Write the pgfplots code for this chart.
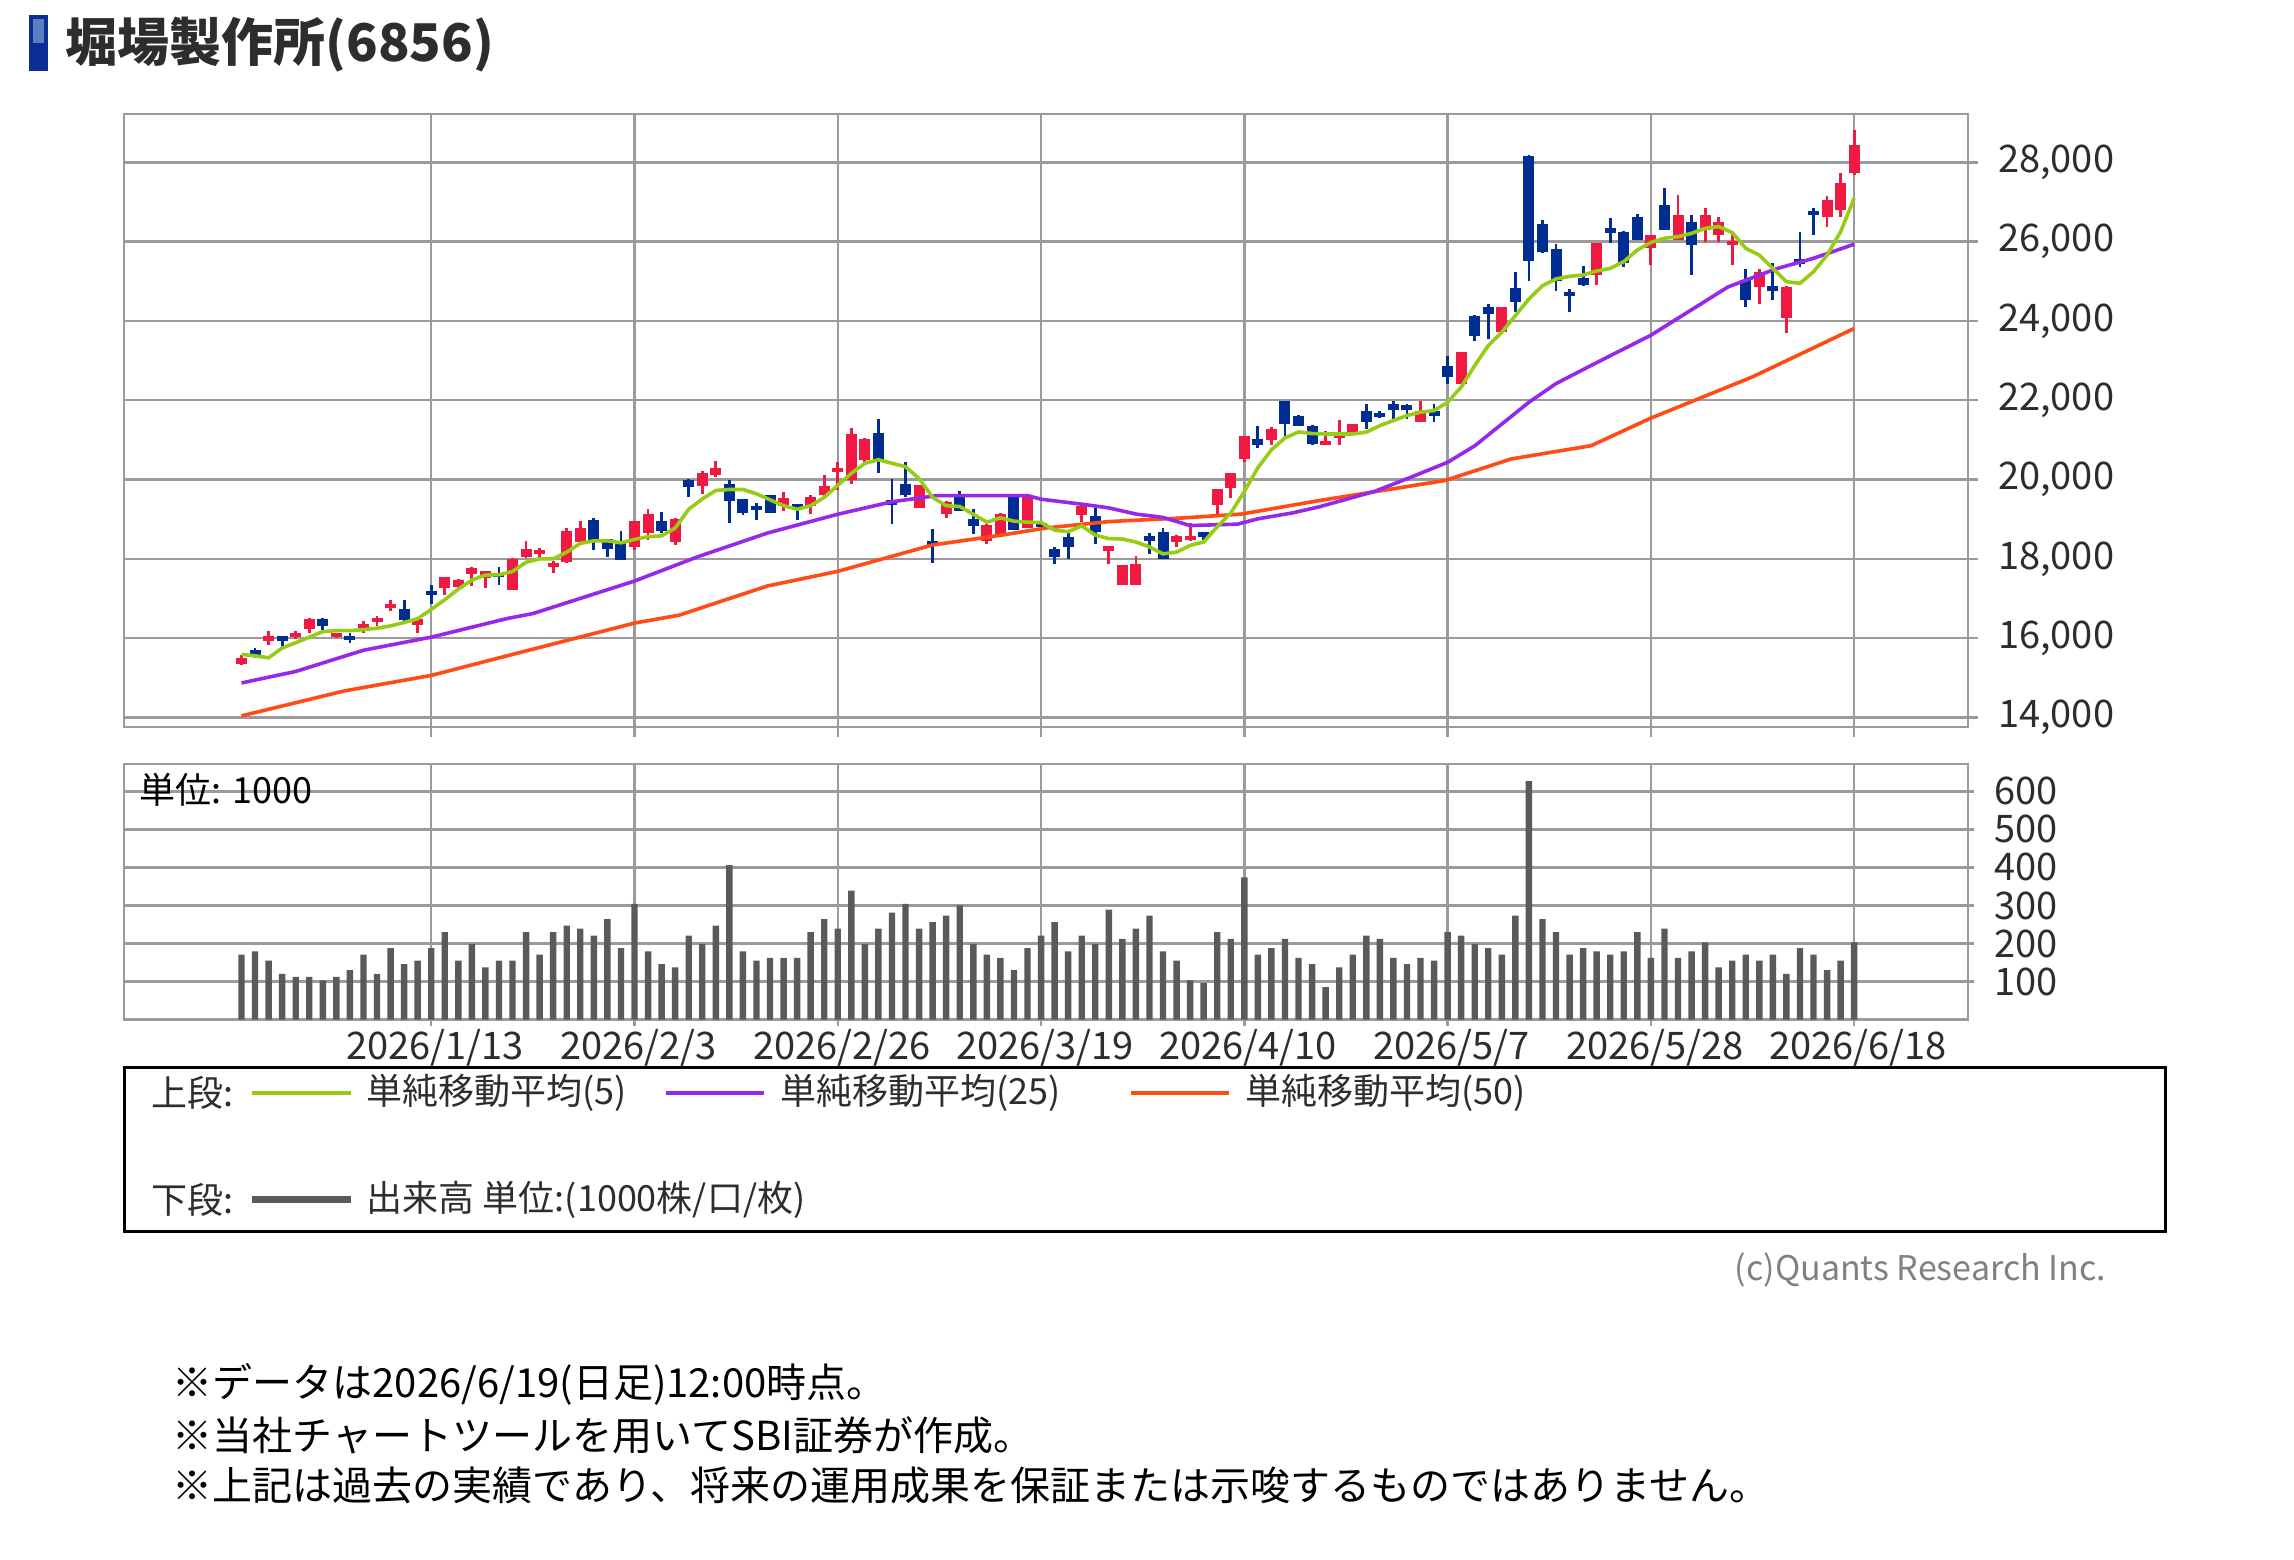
\documentclass[border=0pt]{standalone}
\usepackage{fontspec}
\setmainfont{Noto Sans CJK JP}
\usepackage{pgfplots}
\pgfplotsset{compat=1.18}
\usepackage{pgfplotstable}

\definecolor{upc}{RGB}{240,25,65}
\definecolor{dnc}{RGB}{0,45,145}
\definecolor{mafive}{RGB}{150,205,20}
\definecolor{matwentyfive}{RGB}{150,40,235}
\definecolor{mafifty}{RGB}{255,75,20}
\definecolor{gridc}{RGB}{155,155,155}
\definecolor{volc}{RGB}{90,90,90}
\definecolor{titleblue}{RGB}{10,45,150}
\definecolor{titlelight}{RGB}{95,125,195}
\definecolor{txt}{RGB}{45,45,45}

\pgfplotsset{
  candle/.style={only marks, mark=*, mark size=0pt, mark options={draw=none, fill=none}, forget plot,
    error bars/.cd, y dir=both, y explicit, error mark=none},
}

% red (up) candles: i open high low close
\pgfplotstableread{
i o h l c
0 15340 15570 15320 15490
2 15940 16190 15820 16050
4 16025 16190 15980 16130
5 16230 16500 16130 16490
7 16025 16130 16000 16120
9 16245 16440 16130 16355
10 16395 16560 16310 16520
11 16780 16970 16680 16850
13 16330 16490 16130 16480
15 17260 17540 17095 17530
16 17285 17480 17270 17465
17 17630 17790 17320 17780
18 17505 17700 17260 17695
20 17225 18010 17220 18000
21 18040 18460 18030 18260
22 18150 18280 17990 18210
23 17820 17950 17650 17880
24 17910 18790 17890 18715
25 18430 18945 18345 18775
29 18300 18960 18215 18950
30 18650 19265 18475 19120
32 18430 19020 18345 19010
34 19850 20215 19635 20155
35 20110 20460 20070 20285
40 19340 19675 19210 19525
42 19340 19610 19125 19550
43 19600 20110 19555 19850
44 20200 20455 19725 20280
45 19985 21290 19900 21145
46 20500 21040 20370 21030
50 19295 19870 19280 19855
52 19120 19450 19030 19440
55 18460 18880 18380 18865
56 18605 19160 18600 19120
58 18780 19560 18770 19550
62 19115 19340 18940 19330
64 18210 18330 17870 18320
65 17350 17850 17340 17840
66 17350 18080 17330 17865
69 18425 18590 18300 18580
70 18470 18900 18460 18580
72 19370 19770 19070 19760
73 19785 20175 19545 20165
74 20530 21100 20450 21090
76 21005 21320 20875 21280
80 20875 21235 20870 20985
81 21080 21490 20875 21140
82 21150 21410 21140 21400
87 21445 21990 21440 21740
90 22410 23220 22400 23210
93 23715 24350 23710 24345
100 25160 25970 24905 25960
104 25830 26180 25410 26170
106 26040 27180 26030 26675
108 26295 26840 26000 26675
109 26170 26630 26000 26505
110 25930 26210 25410 25990
112 24860 25310 24440 25240
114 24065 24870 23685 24865
117 26630 27140 26380 27050
118 26800 27725 26630 27475
119 27725 28820 27685 28440
}\upT

% blue (down) candles: i open high low close
\pgfplotstableread{
i o h l c
1 15695 15740 15500 15555
3 16015 16050 15740 15960
6 16490 16500 16215 16310
8 16025 16130 15880 15970
12 16725 16970 16440 16460
14 17180 17340 16850 17095
19 17630 17795 17340 17550
26 18975 19035 18215 18430
27 18490 18500 18045 18260
28 18390 18690 17960 17975
31 18950 19180 18650 18690
33 20000 20010 19550 19810
36 19900 20000 18900 19465
37 19510 19520 19115 19160
38 19300 19420 18975 19250
39 19610 19620 19150 19160
41 19355 19360 18975 19295
47 21185 21530 20155 20500
48 19450 20010 18890 19400
49 19900 20455 19560 19600
51 18420 18750 17895 18360
53 19550 19700 19200 19210
54 19010 19250 18630 18820
57 19550 19560 18730 18735
59 18880 18940 18740 18830
60 18255 18300 17870 18040
61 18555 18640 18000 18300
63 19070 19285 18380 18685
67 18540 18640 18125 18480
68 18685 18770 17990 18000
71 18665 18670 18470 18555
75 21025 21350 20800 20875
77 21970 21980 21050 21395
78 21610 21620 21340 21350
79 21360 21370 20880 20900
83 21740 21910 21280 21445
84 21650 21740 21540 21610
85 21910 21990 21530 21765
86 21840 21910 21530 21800
88 21740 21910 21440 21615
89 22875 23125 22410 22580
91 24135 24140 23500 23630
92 24345 24430 23550 24175
94 24825 25230 24220 24470
95 28170 28180 25015 25520
96 26445 26555 25720 25730
97 25815 25940 24765 25015
98 24720 24800 24220 24650
99 25090 25395 24890 24905
101 26335 26590 25960 26210
102 26250 26260 25370 25450
103 26630 26690 26030 26040
105 26925 27350 26290 26295
107 26505 26680 25160 25915
111 25030 25310 24360 24525
113 24850 25450 24525 24790
115 25520 26250 25370 25470
116 26760 26840 26170 26675
}\dnT

% MA5 and volume (1000 shares)
\pgfplotstableread{
i m5 v
0 15590 171
1 15555 179
2 15505 155
3 15750 120
4 15885 112
5 16025 112
6 16165 103
7 16190 112
8 16190 130
9 16215 171
10 16250 120
11 16310 188
12 16395 146
13 16490 155
14 16725 188
15 16970 230
16 17235 155
17 17465 199
18 17590 137
19 17600 155
20 17680 155
21 17915 230
22 18000 171
23 18000 230
24 18170 247
25 18390 239
26 18455 221
27 18455 264
28 18405 188
29 18490 304
30 18560 179
31 18580 146
32 18775 137
33 19250 221
34 19510 199
35 19725 247
36 19750 406
37 19750 179
38 19640 155
39 19490 162
40 19340 162
41 19250 162
42 19340 230
43 19550 264
44 19855 239
45 20155 339
46 20410 199
47 20500 239
48 20410 281
49 20325 304
50 20025 239
51 19550 256
52 19340 273
53 19320 300
54 19125 199
55 18925 171
56 19035 162
57 18950 130
58 18925 188
59 18915 221
60 18725 256
61 18685 179
62 18830 221
63 18600 199
64 18510 289
65 18500 212
66 18425 239
67 18300 273
68 18125 179
69 18170 155
70 18340 103
71 18425 96
72 18810 230
73 19155 212
74 19700 374
75 20300 171
76 20750 188
77 21050 212
78 21200 162
79 21160 146
80 21150 85
81 21150 137
82 21150 171
83 21195 221
84 21360 212
85 21490 162
86 21615 146
87 21700 162
88 21740 155
89 21950 230
90 22330 221
91 22875 199
92 23380 188
93 23715 171
94 24135 273
95 24555 627
96 24890 264
97 25060 230
98 25125 171
99 25160 188
100 25260 179
101 25325 171
102 25495 179
103 25790 230
104 25980 162
105 26085 239
106 26125 162
107 26210 179
108 26335 203
109 26380 137
110 26230 155
111 25830 171
112 25660 155
113 25325 171
114 24990 120
115 24950 188
116 25240 171
117 25660 130
118 26250 155
119 27095 203
}\mainT

\begin{document}
\begin{tikzpicture}
\path[use as bounding box] (0,0) rectangle (573.5pt,390pt);

% ---------------- price panel ----------------
\begin{axis}[
  at={(31pt,208.25pt)}, anchor=south west, scale only axis,
  width=461pt, height=153.25pt,
  xmin=-8.67, xmax=127.4, ymin=13760, ymax=29220,
  xtick={14,29,44,59,74,89,104,119}, xticklabels={},
  ytick={14000,16000,18000,20000,22000,24000,26000,28000},
  scaled y ticks=false,
  xtick pos=bottom, ytick pos=right, yticklabel pos=right,
  grid=major, grid style={gridc, line width=0.6pt},
  axis line style={gridc, line width=0.6pt},
  tick align=outside, major tick length=2.5pt,
  tick style={gridc, line width=0.6pt},
  /pgf/number format/assume math mode=true,
  /pgf/number format/1000 sep={,},
  yticklabel style={font=\fontsize{9.5}{11}\selectfont, text=txt, anchor=west, xshift=1.5pt},
]
% wicks
\addplot[candle, error bar style={line width=0.7pt, draw=upc, line cap=butt}]
  table[x=i, y expr={(\thisrow{h}+\thisrow{l})/2}, y error expr={(\thisrow{h}-\thisrow{l})/2}] {\upT};
\addplot[candle, error bar style={line width=0.7pt, draw=dnc, line cap=butt}]
  table[x=i, y expr={(\thisrow{h}+\thisrow{l})/2}, y error expr={(\thisrow{h}-\thisrow{l})/2}] {\dnT};
% bodies
\addplot[candle, error bar style={line width=2.75pt, draw=upc, line cap=butt}]
  table[x=i, y expr={(\thisrow{o}+\thisrow{c})/2}, y error expr={max(abs(\thisrow{c}-\thisrow{o})/2,55)}] {\upT};
\addplot[candle, error bar style={line width=2.75pt, draw=dnc, line cap=butt}]
  table[x=i, y expr={(\thisrow{o}+\thisrow{c})/2}, y error expr={max(abs(\thisrow{c}-\thisrow{o})/2,55)}] {\dnT};
% moving averages
\addplot[mafifty, line width=0.9pt] coordinates {
 (0,14040) (7.6,14670) (14,15060) (19.6,15555) (29,16380) (32.3,16580)
 (38.8,17315) (44,17685) (51,18350) (56.2,18605) (59.4,18780) (64,18940)
 (69.4,19030) (73.8,19130) (79.7,19480) (88.8,19975) (93.7,20520)
 (99.6,20855) (104,21550) (111.5,22590) (119,23810)};
\addplot[matwentyfive, line width=0.9pt] coordinates {
 (0,14870) (4,15160) (9,15695) (14,16025) (19.6,16495) (21.5,16620)
 (29,17440) (33.6,18045) (38.8,18650) (44,19125) (48,19440) (51.3,19595)
 (58,19595) (59,19505) (62.2,19370) (64,19285) (66,19130) (68,19045)
 (70,18840) (73.5,18875) (75,19010) (77.5,19155) (79.5,19310) (83.6,19700)
 (86.3,20060) (89,20435) (91,20850) (93,21400) (95,21950) (97,22420)
 (100,22950) (104,23640) (109.7,24860) (113.2,25310) (116,25580) (119,25935)};
\addplot[mafive, line width=0.9pt] table[x=i, y=m5] {\mainT};
\end{axis}

% ---------------- volume panel ----------------
\begin{axis}[
  at={(31pt,135.1pt)}, anchor=south west, scale only axis,
  width=461pt, height=63.9pt,
  xmin=-8.67, xmax=127.4, ymin=0, ymax=672,
  xtick={14,29,44,59,74,89,104,119},
  xticklabels={2026/1/13,2026/2/3,2026/2/26,2026/3/19,2026/4/10,2026/5/7,2026/5/28,2026/6/18},
  ytick={100,200,300,400,500,600},
  xtick pos=bottom, ytick pos=right, yticklabel pos=right,
  grid=major, grid style={gridc, line width=0.6pt},
  axis line style={gridc, line width=0.6pt},
  tick align=outside, major tick length=1.5pt,
  tick style={gridc, line width=0.6pt},
  /pgf/number format/assume math mode=true,
  yticklabel style={font=\fontsize{9.5}{11}\selectfont, text=txt, anchor=west, xshift=1.5pt},
  xticklabel style={font=\fontsize{9.5}{11}\selectfont, text=txt, anchor=north, yshift=2.5pt, xshift=1pt},
]
\addplot[ybar, bar width=1.6pt, fill=volc, draw=none] table[x=i, y=v] {\mainT};
\end{axis}

% ---------------- annotations (pixel coordinates) ----------------
\begin{scope}[x=0.25pt, y=-0.25pt, shift={(0pt,390pt)}]
  % title
  \fill[titleblue] (29,15) rectangle (48,71);
  \fill[titlelight] (33,19) rectangle (44,43);
  \node[anchor=west, inner sep=0pt, text=txt, font=\fontsize{13}{16}\selectfont\bfseries] at (65,45) {堀場製作所(6856)};
  % unit label
  \node[anchor=west, inner sep=0pt, font=\fontsize{9}{10}\selectfont] at (139,790) {単位: 1000};
  % legend box
  \draw[black, line width=0.75pt] (124,1068) rectangle (2165,1232);
  \begin{scope}[every node/.style={anchor=west, inner sep=0pt, text=txt, font=\fontsize{9}{10}\selectfont}]
    \node at (151,1093) {上段:};
    \draw[mafive, line width=0.9pt] (252,1093) -- (351,1093);
    \node at (366,1093) {単純移動平均(5)};
    \draw[matwentyfive, line width=0.9pt] (666,1093) -- (764,1093);
    \node at (780,1093) {単純移動平均(25)};
    \draw[mafifty, line width=0.9pt] (1131,1093) -- (1229,1093);
    \node at (1245,1093) {単純移動平均(50)};
    \node at (151,1200) {下段:};
    \draw[volc, line width=1.75pt] (252,1200) -- (351,1200);
    \node at (366,1200) {出来高 単位:(1000株/口/枚)};
  \end{scope}
  \node[anchor=east, inner sep=0pt, text=gray, font=\fontsize{8.5}{10}\selectfont] at (2107,1270) {(c)Quants Research Inc.};
  % footnotes
  \begin{scope}[every node/.style={anchor=west, inner sep=0pt, text=black, font=\fontsize{10}{12}\selectfont}]
    \node at (172,1384) {※データは2026/6/19(日足)12:00時点。};
    \node at (172,1435) {※当社チャートツールを用いてSBI証券が作成。};
    \node at (172,1485) {※上記は過去の実績であり、将来の運用成果を保証または示唆するものではありません。};
  \end{scope}
\end{scope}
\end{tikzpicture}
\end{document}
